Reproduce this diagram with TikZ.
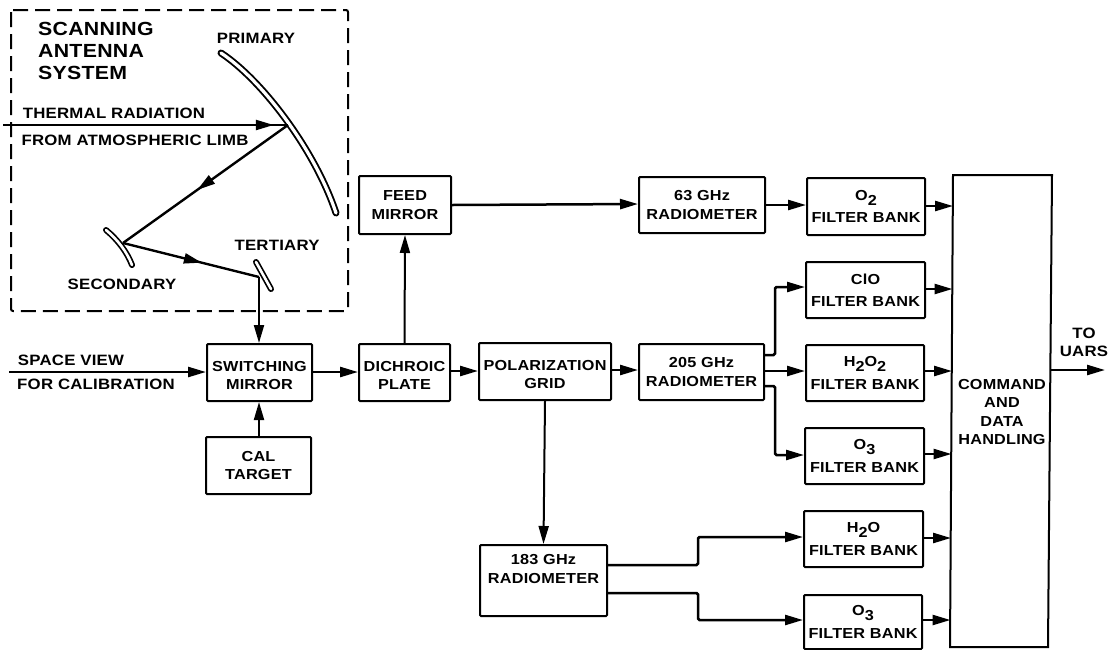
\documentclass[tikz,border=0pt]{standalone}
\usepackage{fontspec}
\setmainfont{Liberation Sans}[FakeStretch=1.12,LetterSpace=1.5]
\usetikzlibrary{arrows.meta,decorations.markings}
\tikzset{
  x=1pt,y=-1pt,
  lbl/.style={inner sep=0pt,font=\fontsize{14.5}{18.5}\selectfont\bfseries,align=center,text=black},
  outer lbl/.style={lbl,font=\fontsize{15}{18}\selectfont\bfseries},
  big/.style={lbl,font=\fontsize{19}{22}\selectfont\bfseries,align=left,anchor=west},
  blockbox/.style={draw=black,line width=2pt,rounded corners=1pt,inner sep=0pt,anchor=north west,lbl},
  conn/.style={draw=black,line width=2.5pt,-{Triangle[length=18pt,width=10pt]},rounded corners=1.5pt},
  thin conn/.style={conn,line width=2pt},
  midhead/.style={draw=black,line width=2.4pt,postaction={decorate},decoration={markings,mark=at position #1 with {\arrow{Triangle[length=18pt,width=10pt]}}}},
  mirror outer/.style={line width=7pt,line cap=round,draw=black},
  mirror inner/.style={line width=3.2pt,line cap=round,draw=white},
}
\newcommand{\blockat}[6]{\node[blockbox,minimum width=#4pt,minimum height=#5pt] (#1) at (#2,#3) {#6};}
\newcommand{\lowr}{\rule{0pt}{16pt}}
\begin{document}
\begin{tikzpicture}
\useasboundingbox (0,0) rectangle (1109,649);
% antenna enclosure
\draw[line width=2pt,draw=black,dash pattern=on 15pt off 7pt,rounded corners=2pt] (11,10) rectangle (348,311);
\node[big] (title) at (38,51) {SCANNING\\ANTENNA\\SYSTEM};
\node[outer lbl] (lprimary) at (256,38) {PRIMARY};
\node[outer lbl] (ltertiary) at (277,245) {TERTIARY};
\node[outer lbl] (lsecondary) at (122,284) {SECONDARY};
\node[outer lbl] (lthermal) at (114,113) {THERMAL RADIATION};
\node[outer lbl] (llimb) at (135,140) {FROM ATMOSPHERIC LIMB};
\node[outer lbl] (lspace) at (71,360) {SPACE VIEW};
\node[outer lbl] (lcal) at (96,384) {FOR CALIBRATION};
% mirrors
\coordinate (p0) at (221,53); \coordinate (p1) at (336,213);
\coordinate (s0) at (106,230); \coordinate (s1) at (132,265);
\coordinate (t0) at (256,262); \coordinate (t1) at (271,289);
\coordinate (fpri) at (288,125); \coordinate (fsec) at (123,243); \coordinate (fter) at (259,277);
\coordinate (in1) at (3,125); \coordinate (in2) at (9,372);
\draw[mirror outer] (p0) .. controls (262,80) and (315,150) .. (p1);
\draw[mirror inner] (p0) .. controls (262,80) and (315,150) .. (p1);
\draw[mirror outer,line width=6pt] (s0) .. controls (118,240) and (127,252) .. (s1);
\draw[mirror inner,line width=2.6pt] (s0) .. controls (118,240) and (127,252) .. (s1);
\draw[mirror outer,line width=6pt] (t0) -- (t1);
\draw[mirror inner,line width=2.6pt] (t0) -- (t1);
% rays
\path[midhead=0.95] (in1) -- (fpri);
\path[midhead=0.55] (fpri) -- (fsec);
\path[midhead=0.58] (fsec) -- (fter);
% blocks
\blockat{switch}{206}{343}{105}{57}{\lowr SWITCHING\\MIRROR}
\blockat{caltgt}{205}{436}{105}{57}{CAL\\TARGET}
\blockat{dich}{358}{343}{91}{57}{\lowr DICHROIC\\PLATE}
\blockat{pol}{478}{342}{132}{57}{\lowr POLARIZATION\\GRID}
\blockat{feed}{358}{175}{92}{58}{FEED\\MIRROR}
\blockat{r63}{638}{176}{126}{56}{63 GHz\\RADIOMETER}
\blockat{r205}{638}{343}{125}{56}{205 GHz\\RADIOMETER}
\blockat{r183}{479}{544}{127}{71}{183 GHz\\RADIOMETER\\[5pt]\mbox{}}
\blockat{fo2}{806}{177}{118}{57}{O\raisebox{-5pt}{2}\\[4pt]FILTER BANK}
\blockat{fclo}{805}{261}{119}{56}{ClO\\[4pt]FILTER BANK}
\blockat{fh2o2}{805}{344}{118}{56}{H\raisebox{-5pt}{2}O\raisebox{-5pt}{2}\\[4pt]FILTER BANK}
\blockat{fo3}{804}{427}{119}{56}{O\raisebox{-5pt}{3}\\[4pt]FILTER BANK}
\blockat{fh2o}{803}{510}{119}{56}{H\raisebox{-5pt}{2}O\\[4pt]FILTER BANK}
\blockat{fo3b}{803}{594}{118}{54}{O\raisebox{-5pt}{3}\\[4pt]FILTER BANK}
% command block
\coordinate (c1) at (953,175); \coordinate (c2) at (1052,175); \coordinate (c3) at (1048,647); \coordinate (c4) at (950,647);
\draw[draw=black,line width=2pt] (c1) -- (c2) -- (c3) -- (c4) -- cycle;
\node[lbl] (cmd) at (1002,412) {COMMAND\\AND\\DATA\\HANDLING};
\coordinate (cmdo2) at (953,206); \coordinate (cmdclo) at (952.5,289); \coordinate (cmdh) at (952,371);
\coordinate (cmdo3) at (951.5,454); \coordinate (cmdw) at (951,538); \coordinate (cmdo3b) at (950.5,620);
\coordinate (cmdout) at (1050.5,370); \coordinate (uars) at (1105,370);
\node[outer lbl] (luars) at (1084,342) {TO\\UARS};
% connectors
\draw[conn] (in2) -- (switch.west |- in2);
\draw[thin conn] (fter) -- (fter |- switch.north);
\draw[thin conn] (caltgt.north -| fter) -- (fter |- switch.south);
\draw[conn] (switch.east |- 0,372) -- (dich.west |- 0,372);
\draw[conn] (dich.east |- 0,371) -- (pol.west |- 0,371);
\draw[conn] (pol.east |- 0,370) -- (r205.west |- 0,370);
\draw[thin conn] (dich.north) -- (feed.south);
\draw[thin conn] (pol.south) -- (r183.north);
\draw[conn] (feed.east |- 0,205) -- (r63.west |- 0,204);
\draw[conn] (r63.east |- 0,205) -- (fo2.west |- 0,205);
\draw[conn] (r205.east |- 0,355) -| (775,287) -- (fclo.west |- 0,287);
\draw[conn] (r205.east |- 0,371) -- (fh2o2.west |- 0,371);
\draw[conn] (r205.east |- 0,386) -| (775,455) -- (fo3.west |- 0,455);
\draw[conn] (r183.east |- 0,565) -| (698,537) -- (fh2o.west |- 0,537);
\draw[conn] (r183.east |- 0,593) -| (698,620) -- (fo3b.west |- 0,620);
\draw[conn] (fo2.east |- cmdo2) -- (cmdo2);
\draw[conn] (fclo.east |- cmdclo) -- (cmdclo);
\draw[conn] (fh2o2.east |- cmdh) -- (cmdh);
\draw[conn] (fo3.east |- cmdo3) -- (cmdo3);
\draw[conn] (fh2o.east |- cmdw) -- (cmdw);
\draw[conn] (fo3b.east |- cmdo3b) -- (cmdo3b);
\draw[conn] (cmdout) -- (uars);
\end{tikzpicture}
\end{document}
